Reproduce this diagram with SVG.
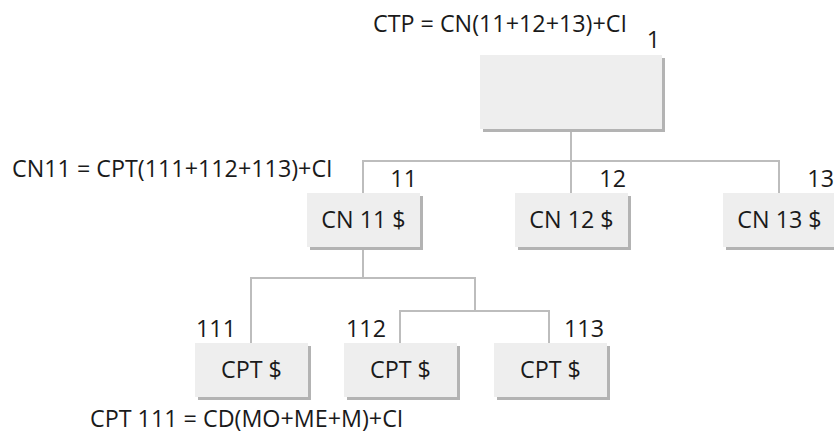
<svg xmlns="http://www.w3.org/2000/svg" width="834" height="435" viewBox="0 0 834 435">
<style>
text{font-family:"Open Sans","Noto Sans","Liberation Sans",sans-serif;font-size:23.3px;fill:#1a1a1a}
.box{fill:#eeeeee}
.sh{fill:#b3b3b3}
.c{text-anchor:middle}
.e{text-anchor:end}
#connectors path{fill:none;stroke:#bdbdbd;stroke-width:2}
</style>
<rect width="834" height="435" fill="#ffffff"/>
<g id="connectors">
<path d="M571 131 V193"/>
<path d="M363 193 V161 H779 V193"/>
<path d="M363 249 V278"/>
<path d="M251 343 V278 H475 V311"/>
<path d="M400 343 V311 H549 V343"/>
</g>
<g id="node-1">
<rect class="sh" x="483" y="58" width="182" height="74"/>
<rect class="box" x="480" y="55" width="182" height="74"/>
<text class="e" x="660" y="48">1</text>
</g>
<g id="node-11">
<rect class="sh" x="310" y="196" width="113" height="54"/>
<rect class="box" x="307" y="193" width="113" height="54"/>
<text class="c" x="363.5" y="228">CN 11 $</text>
<text class="e" x="417" y="187">11</text>
</g>
<g id="node-12">
<rect class="sh" x="518" y="196" width="113" height="54"/>
<rect class="box" x="515" y="193" width="113" height="54"/>
<text class="c" x="571.5" y="228">CN 12 $</text>
<text class="e" x="626" y="187">12</text>
</g>
<g id="node-13">
<rect class="sh" x="726" y="196" width="113" height="54"/>
<rect class="box" x="723" y="193" width="113" height="54"/>
<text class="c" x="779.5" y="228">CN 13 $</text>
<text class="e" x="834" y="187">13</text>
</g>
<g id="node-111">
<rect class="sh" x="198" y="346" width="113" height="54"/>
<rect class="box" x="195" y="343" width="113" height="54"/>
<text class="c" x="251.5" y="378">CPT $</text>
<text x="196" y="337">111</text>
</g>
<g id="node-112">
<rect class="sh" x="347" y="346" width="113" height="54"/>
<rect class="box" x="344" y="343" width="113" height="54"/>
<text class="c" x="400.5" y="378">CPT $</text>
<text x="346" y="337">112</text>
</g>
<g id="node-113">
<rect class="sh" x="497" y="346" width="113" height="54"/>
<rect class="box" x="494" y="343" width="113" height="54"/>
<text class="c" x="550.5" y="378">CPT $</text>
<text class="e" x="604" y="337">113</text>
</g>
<g id="formulas">
<text x="373" y="32">CTP = CN(11+12+13)+CI</text>
<text x="12" y="177">CN11 = CPT(111+112+113)+CI</text>
<text x="90" y="427">CPT 111 = CD(MO+ME+M)+CI</text>
</g>
</svg>
